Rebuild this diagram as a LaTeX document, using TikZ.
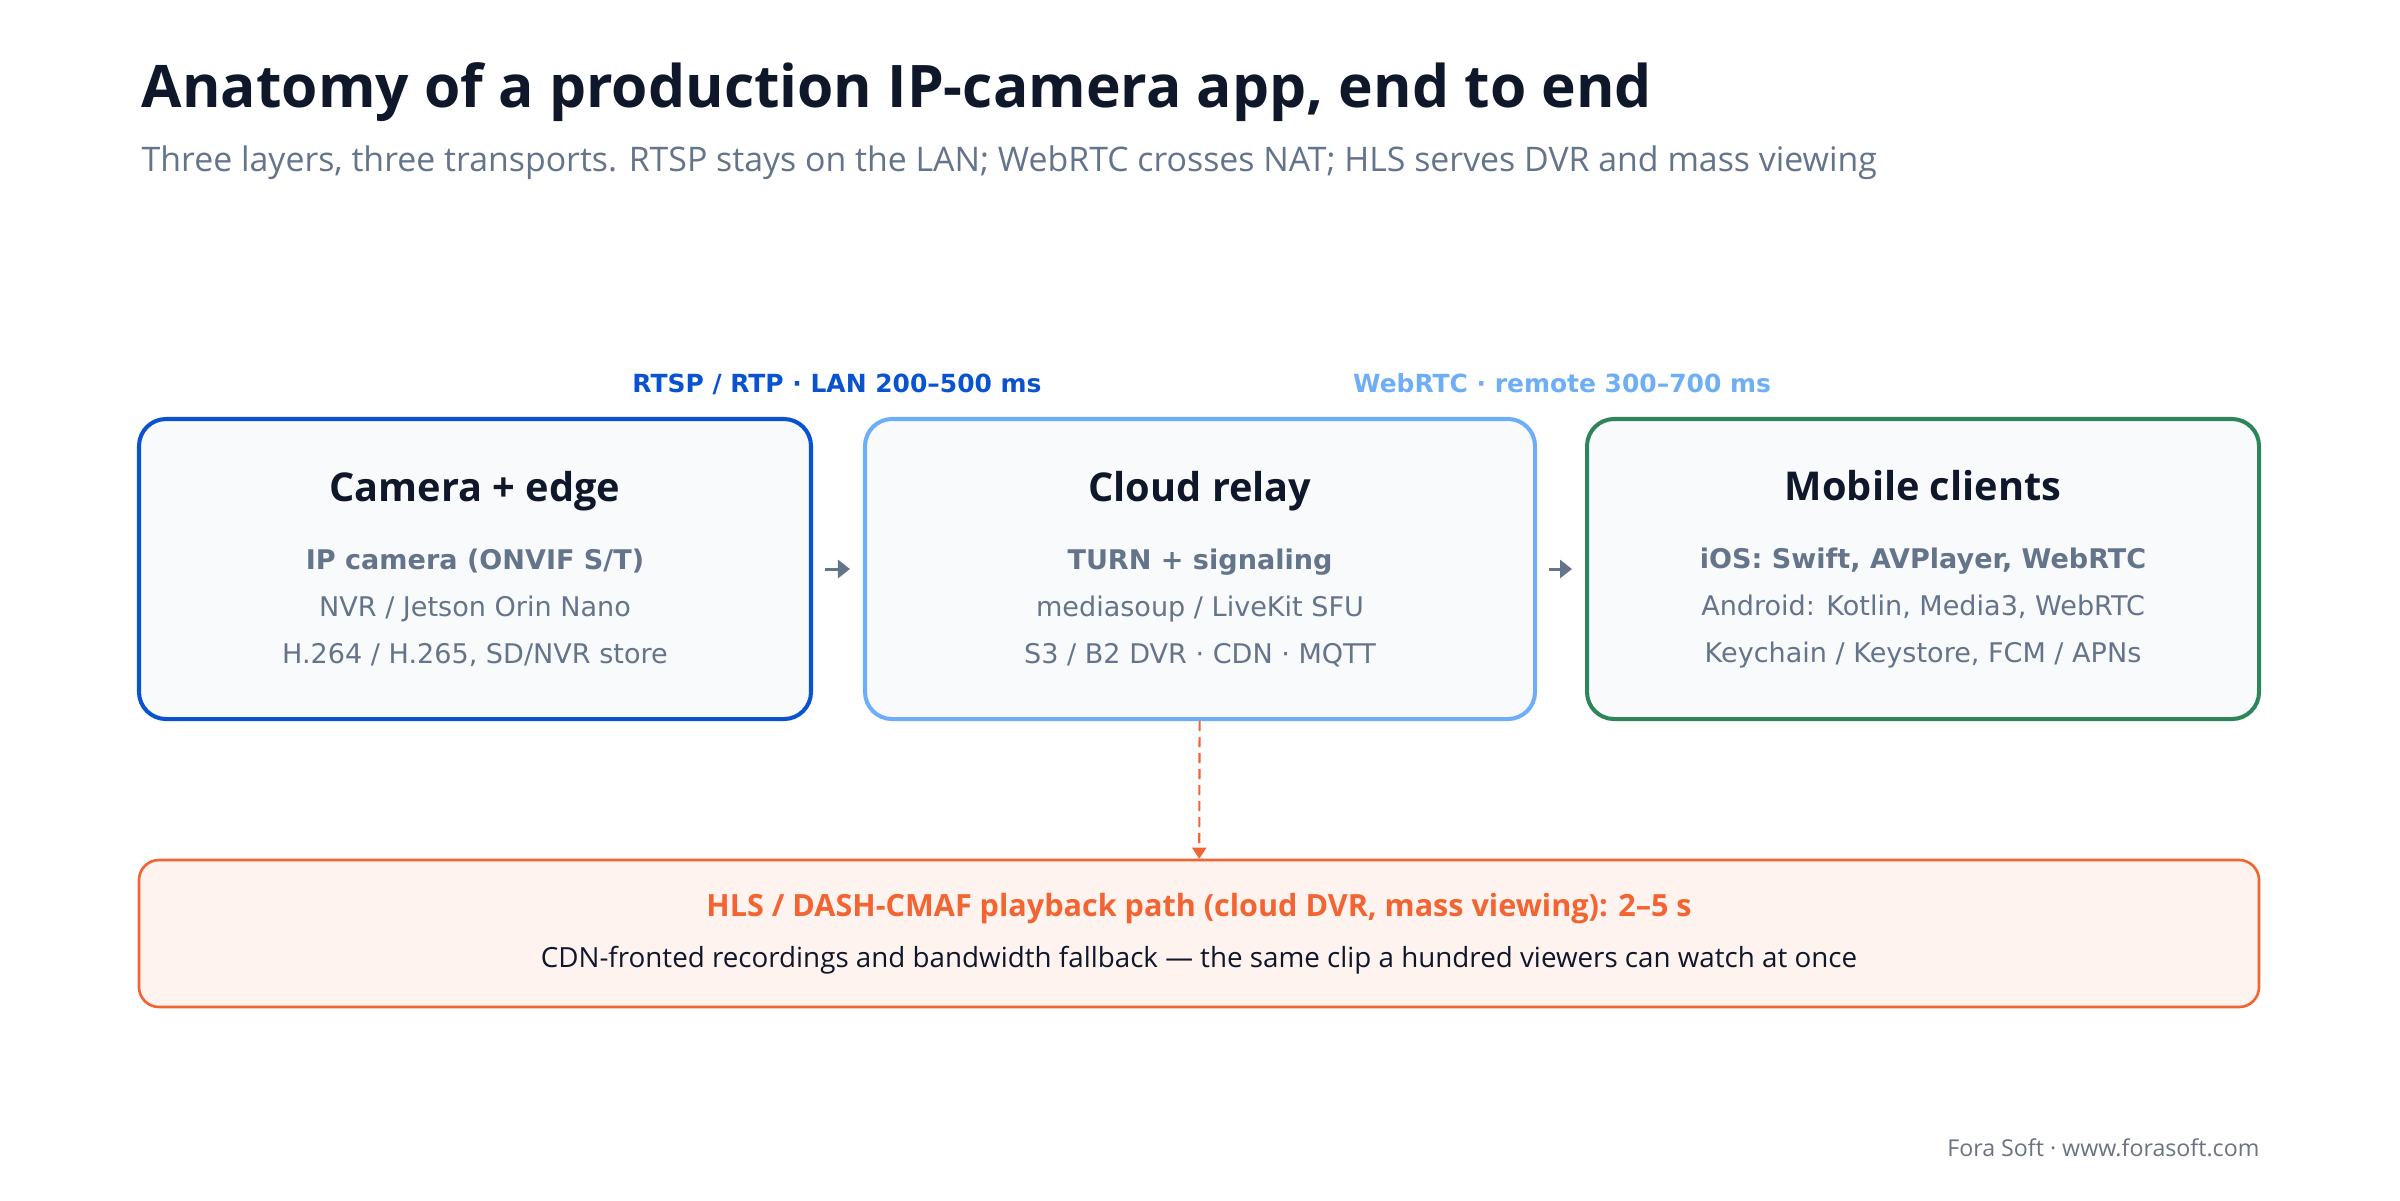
\documentclass[tikz,border=0pt]{standalone}
\usepackage{fontspec}
\setmainfont{DejaVu Sans}
\newfontfamily\interfont{Open Sans}
\usepackage{xcolor}
\usetikzlibrary{positioning,arrows.meta}
\definecolor{Ink}{HTML}{0F172A}
\definecolor{Slate}{HTML}{64748B}
\definecolor{Footer}{HTML}{6B7280}
\definecolor{PanelFill}{HTML}{F8FAFC}
\definecolor{LanBlue}{HTML}{0A53D0}
\definecolor{SkyBlue}{HTML}{6EAEF6}
\definecolor{EdgeGreen}{HTML}{2F855A}
\definecolor{HlsOrange}{HTML}{F26432}
\definecolor{HlsFill}{HTML}{FEF3EF}
\newcommand{\layerhead}[1]{{\interfont\bfseries\fontsize{11.3}{13}\selectfont\color{Ink}#1}}

\begin{document}
\begin{tikzpicture}[
      every node/.style={align=center, inner sep=0pt},
      layer/.style={draw, line width=1.15pt, fill=PanelFill, rounded corners=0.27cm,
        minimum width=6.72cm, minimum height=3cm, text=Slate,
        font=\fontsize{7.7}{13.4}\selectfont},
      hlsbox/.style={draw=HlsOrange, line width=0.75pt, fill=HlsFill, rounded corners=0.2cm,
        minimum width=21.2cm, minimum height=1.47cm, font=\interfont},
      linklabel/.style={anchor=base, font=\bfseries\fontsize{7.1}{8}\selectfont},
      link/.style={line width=0.85pt, Slate, -{Triangle[length=0.12cm, width=0.18cm]},
        shorten <=0.12cm, shorten >=0.13cm},
      dvr/.style={line width=0.6pt, HlsOrange, dash pattern=on 0.1cm off 0.06cm,
        -{Triangle[length=0.11cm, width=0.14cm]}}
    ]
      \fill[white] (0,0) rectangle (24,-12);
      \useasboundingbox (0,0) rectangle (24,-12);

      % Heading
      \node[anchor=base west, font=\interfont\bfseries\fontsize{16.7}{20}\selectfont, text=Ink]
        (title) at (1.41,-1.07) {Anatomy of a production IP-camera app, end to end};
      \node[anchor=base west, font=\interfont\fontsize{9.63}{12}\selectfont, text=Slate]
        (subtitle) at (1.41,-1.71) {Three layers, three transports. RTSP stays on the LAN; WebRTC crosses NAT; HLS serves DVR and mass viewing};

      % Layers
      \node[layer, draw=LanBlue] (camera) at (4.75,-5.69)
        {\layerhead{Camera + edge}\\[6pt]
         {\bfseries IP camera (ONVIF S/T)}\\
         NVR / Jetson Orin Nano\\
         H.264 / H.265, SD/NVR store};
      \node[layer, draw=SkyBlue, minimum width=6.7cm] (relay) at (12.00,-5.69)
        {\layerhead{Cloud relay}\\[6pt]
         {\bfseries TURN + signaling}\\
         mediasoup / LiveKit SFU\\
         S3 / B2 DVR · CDN · MQTT};
      \node[layer, draw=EdgeGreen] (mobile) at (19.23,-5.69)
        {\layerhead{Mobile clients}\\[6pt]
         {\bfseries iOS: Swift, AVPlayer, WebRTC}\\
         Android: Kotlin, Media3, WebRTC\\
         Keychain / Keystore, FCM / APNs};

      \draw[link] (camera) -- (relay);
      \draw[link] (relay) -- (mobile);

      % Transport labels
      \node[linklabel, text=LanBlue] (rtsp) at (8.37,-3.92) {RTSP / RTP · LAN 200–500 ms};
      \node[linklabel, text=SkyBlue] (webrtc) at (15.62,-3.92) {WebRTC · remote 300–700 ms};

      % Playback path
      \node[hlsbox] (hls) at (11.99,-9.335)
        {{\bfseries\fontsize{8.7}{10}\selectfont\color{HlsOrange} HLS / DASH-CMAF playback path (cloud DVR, mass viewing): 2–5 s}\\[2.5pt]
         {\fontsize{7.9}{9}\selectfont\color{Ink} CDN-fronted recordings and bandwidth fallback — the same clip a hundred viewers can watch at once}};
      \draw[dvr] (relay) -- (hls);

      \node[anchor=base east, font=\interfont\fontsize{6.6}{8}\selectfont, text=Footer]
        (credit) at (22.60,-11.56) {Fora Soft · www.forasoft.com};
    \end{tikzpicture}
\end{document}
